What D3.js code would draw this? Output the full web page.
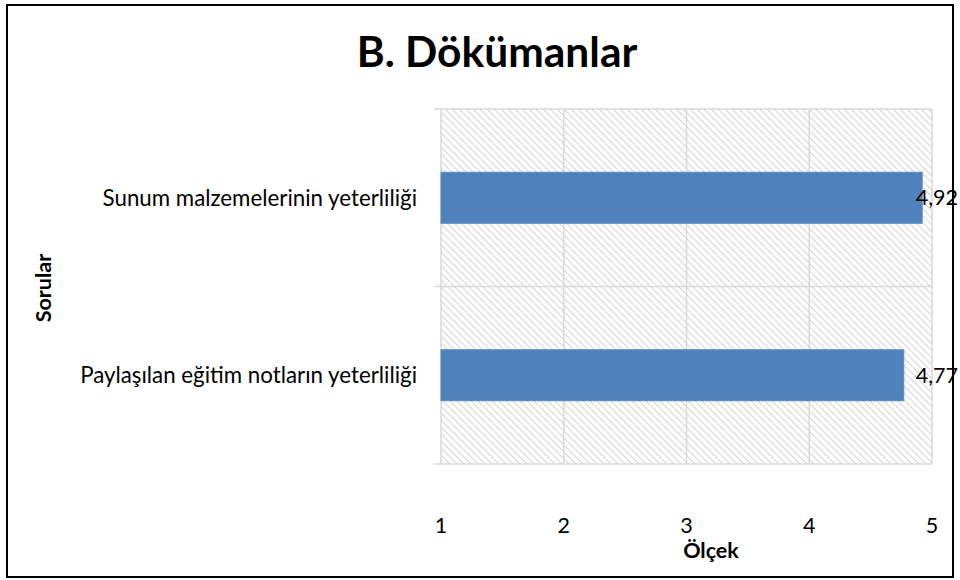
<!DOCTYPE html>
<html><head><meta charset="utf-8">
<script src="https://cdn.jsdelivr.net/npm/d3@7"></script>
<style>body{margin:0;background:#fff}svg{display:block}text{font-family:Lato,"Open Sans",sans-serif}</style>
</head><body>
<svg id="c" width="960" height="580"></svg>
<script>
const categories = ["Sunum malzemelerinin yeterliliği", "Paylaşılan eğitim notların yeterliliği"];
const values = [4.92, 4.77];
const valueLabels = ["4,92", "4,77"];
const xTicks = [1, 2, 3, 4, 5];
const title = "B. Dökümanlar";
const xTitle = "Ölçek";
const yTitle = "Sorular";

const FS = 22.3;
const svg = d3.select("#c");
svg.append("rect").attr("x",7).attr("y",5).attr("width",946).attr("height",572)
  .attr("fill","#fff").attr("stroke","#000").attr("stroke-width",2);

const defs = svg.append("defs");
const P = 7;
const pat = defs.append("pattern").attr("id","hatch").attr("patternUnits","userSpaceOnUse")
  .attr("width",P).attr("height",P);
pat.append("rect").attr("width",P).attr("height",P).attr("fill","#fff");
pat.append("path").attr("d",`M-1,-1 L${P+1},${P+1} M-1,${P-1} L1,${P+1} M${P-1},-1 L${P+1},1`)
  .attr("stroke","#d8d8d8").attr("stroke-width",1.2);

const L = 441, R = 932, T = 109, B = 464;
const x = d3.scaleLinear().domain([1,5]).range([L,R]);
const y = d3.scaleBand().domain(categories).range([T,B]).paddingInner(0).paddingOuter(0);

svg.append("rect").attr("x",L).attr("y",T).attr("width",R-L).attr("height",B-T).attr("fill","url(#hatch)");

// vertical gridlines
svg.append("g").selectAll("line").data(xTicks).join("line")
  .attr("x1",d=>x(d)).attr("x2",d=>x(d)).attr("y1",T).attr("y2",B)
  .attr("stroke","#d9d9d9").attr("stroke-width",1.5);

// category boundary lines with ticks
const bounds = [T].concat(categories.map(c=>y(c)+y.bandwidth()));
svg.append("g").selectAll("line").data(bounds).join("line")
  .attr("x1",L-7).attr("x2",R).attr("y1",d=>d).attr("y2",d=>d)
  .attr("stroke","#d9d9d9").attr("stroke-width",1.5);

// bars
const bh = 51;
svg.append("g").selectAll("rect").data(values).join("rect")
  .attr("x",L).attr("y",(d,i)=>y(categories[i])+y.bandwidth()/2-bh/2)
  .attr("width",d=>x(d)-L).attr("height",bh)
  .attr("fill","#4f81bd").attr("stroke","#5a8ac4").attr("stroke-width",1);

// data labels
svg.append("g").selectAll("text").data(values).join("text")
  .text((d,i)=>valueLabels[i])
  .attr("y",(d,i)=>y(categories[i])+y.bandwidth()/2)
  .attr("dy","0.35em").attr("font-size",21.5).attr("fill","#000")
  .each(function(d){
    const w = this.getComputedTextLength();
    d3.select(this).attr("x", Math.min(x(d)+14, 958-w));
  });

// category labels
svg.append("g").selectAll("text").data(categories).join("text")
  .text(d=>d).attr("x",417).attr("y",d=>y(d)+y.bandwidth()/2).attr("dy","0.35em")
  .attr("text-anchor","end").attr("font-size",FS).attr("fill","#000");

// x tick labels
svg.append("g").selectAll("text").data(xTicks).join("text")
  .text(d=>d).attr("x",d=>x(d)).attr("y",525).attr("dy","0.35em")
  .attr("text-anchor","middle").attr("font-size",21.5).attr("fill","#000");

svg.append("text").text(title).attr("x",497).attr("y",67).attr("text-anchor","middle")
  .attr("font-size",42.5).attr("font-weight","bold").attr("fill","#000");
svg.append("text").text(xTitle).attr("x",711).attr("y",550).attr("dy","0.35em").attr("text-anchor","middle")
  .attr("font-size",21.5).attr("font-weight","bold").attr("fill","#000");
svg.append("text").text(yTitle).attr("transform","translate(43,288) rotate(-90)").attr("dy","0.35em")
  .attr("text-anchor","middle").attr("font-size",21.5).attr("font-weight","bold").attr("fill","#000");
</script>
</body></html>
